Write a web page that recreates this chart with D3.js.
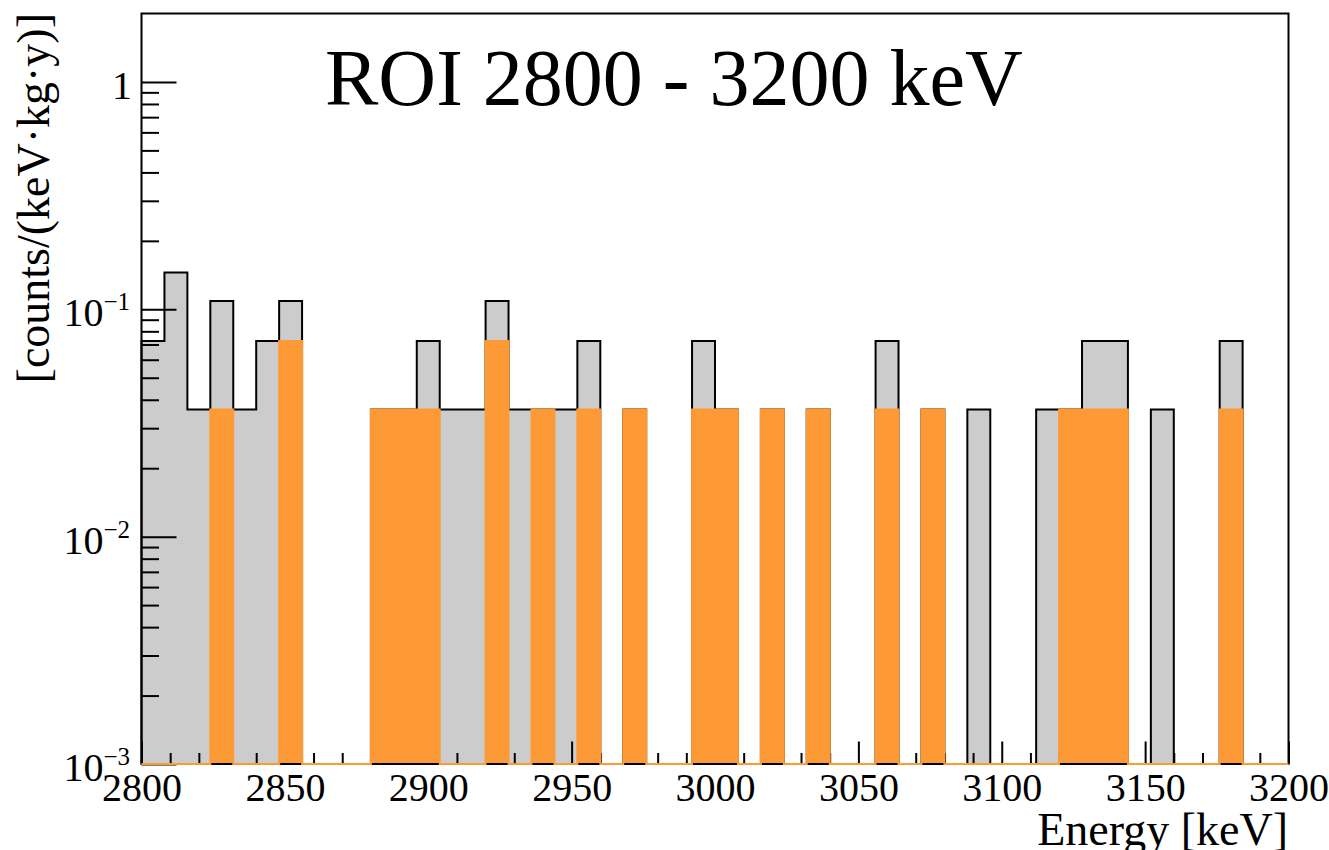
<!DOCTYPE html>
<html>
<head>
<meta charset="utf-8">
<script src="https://cdn.jsdelivr.net/npm/d3@7"></script>
<style>
  html, body { margin: 0; padding: 0; background: #ffffff; }
  svg { display: block; }
  text { font-family: "Liberation Serif", "DejaVu Serif", serif; fill: #000; }
</style>
</head>
<body>
<svg id="chart" width="1329" height="850"></svg>
<script>
// Energy binning: 8 keV bins over the 2800-3200 keV region of interest
const binEdges = d3.range(2800, 3201, 8);

// Rate per bin, counts/(keV·kg·y): all events (grey) and selected events (orange)
const allEvents = [
  0.0725, 0.145, 0.03625, 0.10875, 0.03625, 0.0725, 0.10875, 0, 0, 0,
  0.03625, 0.03625, 0.0725, 0.03625, 0.03625, 0.10875, 0.03625, 0.03625, 0.03625, 0.0725,
  0, 0.03625, 0, 0, 0.0725, 0.03625, 0, 0.03625, 0, 0.03625,
  0, 0, 0.0725, 0, 0.03625, 0, 0.03625, 0, 0, 0.03625,
  0.03625, 0.0725, 0.0725, 0, 0.03625, 0, 0, 0.0725, 0, 0
];
const selectedEvents = [
  0, 0, 0, 0.03625, 0, 0, 0.0725, 0, 0, 0,
  0.03625, 0.03625, 0.03625, 0, 0, 0.0725, 0, 0.03625, 0, 0.03625,
  0, 0.03625, 0, 0, 0.03625, 0.03625, 0, 0.03625, 0, 0.03625,
  0, 0, 0.03625, 0, 0.03625, 0, 0, 0, 0, 0,
  0.03625, 0.03625, 0.03625, 0, 0, 0, 0, 0.03625, 0, 0
];

// Axis ticks and labels
const xMajorTicks = [2800, 2850, 2900, 2950, 3000, 3050, 3100, 3150, 3200];
const xMinorTicks = [2810, 2820, 2830, 2840, 2860, 2870, 2880, 2890, 2910, 2920, 2930, 2940,
                     2960, 2970, 2980, 2990, 3010, 3020, 3030, 3040, 3060, 3070, 3080, 3090,
                     3110, 3120, 3130, 3140, 3160, 3170, 3180, 3190];
const yMajorTicks = [1, 0.1, 0.01, 0.001];
const yMajorBase = ["1", "10", "10", "10"];
const yMajorExp = ["", "\u22121", "\u22122", "\u22123"];
const yMinorTicks = [0.002, 0.003, 0.004, 0.005, 0.006, 0.007, 0.008, 0.009,
                     0.02, 0.03, 0.04, 0.05, 0.06, 0.07, 0.08, 0.09,
                     0.2, 0.3, 0.4, 0.5, 0.6, 0.7, 0.8, 0.9];

const titleText = "ROI 2800 - 3200 keV";
const xTitle = "Energy [keV]";
const yTitle = "[counts/(keV\u00B7kg\u00B7y)]";

const colGrey = "#cccccc";
const colOrange = "#fd9a36";

const frame = { left: 141.5, right: 1288.5, top: 13.5, bottom: 764 };

const svg = d3.select("#chart");

const x = d3.scaleLinear().domain([2800, 3200]).range([frame.left, frame.right]);
const y = d3.scaleLog().domain([1e-3, 2]).range([frame.bottom, frame.top]);
const yv = v => (v > 0 ? y(v) : frame.bottom);

// Step outline points of a histogram: bin tops joined by vertical edges
function stepPoints(values) {
  const pts = [[x(binEdges[0]), frame.bottom]];
  values.forEach((v, i) => {
    pts.push([x(binEdges[i]), yv(v)]);
    pts.push([x(binEdges[i + 1]), yv(v)]);
  });
  pts.push([x(binEdges[binEdges.length - 1]), frame.bottom]);
  return pts;
}
const line = d3.line();
const area = d3.area()
  .x(d => d[0])
  .y0(frame.bottom - 1)
  .y1(d => Math.min(d[1], frame.bottom - 1));

// Grey histogram: fill, then black outline
svg.append("path")
  .attr("d", area(stepPoints(allEvents)))
  .attr("fill", colGrey);

svg.append("path")
  .attr("d", line(stepPoints(allEvents)))
  .attr("fill", "none")
  .attr("stroke", "#000")
  .attr("stroke-width", 2);

// Axes
const axisStyle = g => {
  g.select(".domain").remove();
  g.selectAll("line").attr("stroke", "#000").attr("stroke-width", 2);
};

svg.append("g")
  .attr("transform", `translate(0,${frame.bottom})`)
  .call(d3.axisBottom(x).tickValues(xMinorTicks).tickSize(-11).tickFormat(""))
  .call(axisStyle);

const xMaj = svg.append("g")
  .attr("transform", `translate(0,${frame.bottom})`)
  .call(d3.axisBottom(x).tickValues(xMajorTicks).tickSize(-22.5).tickFormat(d3.format("d")))
  .call(axisStyle);
xMaj.selectAll("text")
  .attr("y", 37).attr("dy", 0)
  .style("font-family", '"Liberation Serif", serif')
  .style("font-size", "40px")
  .attr("fill", "#000");

svg.append("g")
  .attr("transform", `translate(${frame.left},0)`)
  .call(d3.axisLeft(y).tickValues(yMinorTicks).tickSize(-17.5).tickFormat(""))
  .call(axisStyle);

svg.append("g")
  .attr("transform", `translate(${frame.left},0)`)
  .call(d3.axisLeft(y).tickValues(yMajorTicks).tickSize(-35).tickFormat(""))
  .call(axisStyle);

// y tick labels as powers of ten
const yLab = svg.append("g");
yMajorTicks.forEach((v, i) => {
  const t = yLab.append("text")
    .attr("x", yMajorExp[i] ? 130 : 132)
    .attr("y", y(v) + 17)
    .attr("text-anchor", "end")
    .style("font-size", "40px");
  t.append("tspan").text(yMajorBase[i]);
  if (yMajorExp[i]) {
    t.append("tspan")
      .attr("dy", -16)
      .style("font-size", "25px")
      .text(yMajorExp[i]);
  }
});

// Frame
svg.append("rect")
  .attr("x", frame.left).attr("y", frame.top)
  .attr("width", frame.right - frame.left)
  .attr("height", frame.bottom - frame.top)
  .attr("fill", "none")
  .attr("stroke", "#000")
  .attr("stroke-width", 2);

// Orange histogram on top
svg.append("path")
  .attr("d", area(stepPoints(selectedEvents)))
  .attr("fill", colOrange);

svg.append("path")
  .attr("d", line(stepPoints(selectedEvents)))
  .attr("fill", "none")
  .attr("stroke", colOrange)
  .attr("stroke-width", 2);

// Titles
svg.append("text")
  .attr("x", 325).attr("y", 105)
  .style("font-size", "80px")
  .text(titleText);

svg.append("text")
  .attr("x", 1288).attr("y", 845)
  .attr("text-anchor", "end")
  .style("font-size", "46px")
  .text(xTitle);

svg.append("text")
  .attr("transform", "translate(49,13) rotate(-90)")
  .attr("text-anchor", "end")
  .style("font-size", "46px")
  .text(yTitle);
</script>
</body>
</html>
